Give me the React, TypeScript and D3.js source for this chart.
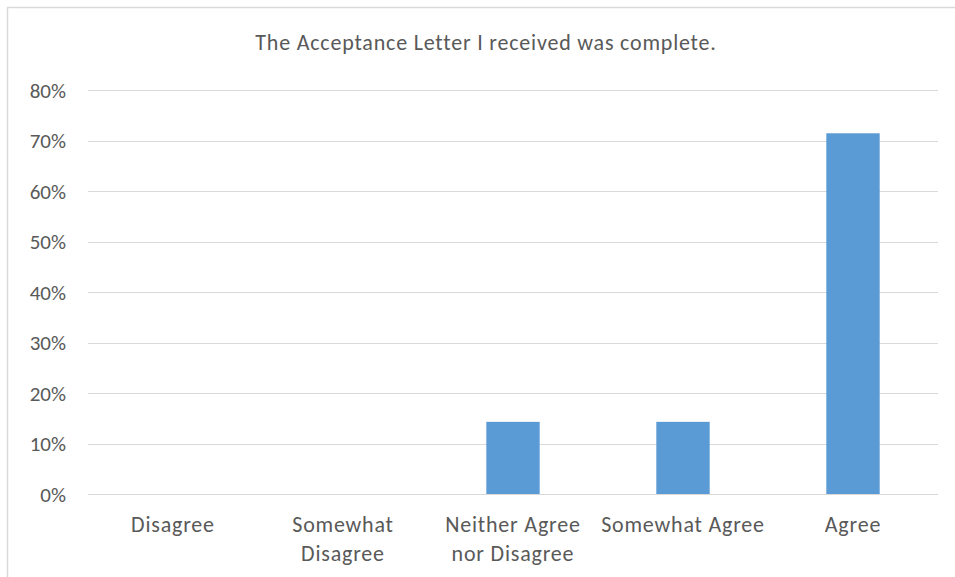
import React from "react";
import * as d3 from "d3";

const categories: string[][] = [
  ["Disagree"],
  ["Somewhat", "Disagree"],
  ["Neither Agree", "nor Disagree"],
  ["Somewhat Agree"],
  ["Agree"],
];
const values: number[] = [0, 0, 0.1429, 0.1429, 0.7143];
const yTicks: number[] = [0, 0.1, 0.2, 0.3, 0.4, 0.5, 0.6, 0.7, 0.8];
const title = "The Acceptance Letter I received was complete.";

const W = 955;
const H = 577;
const plotLeft = 88;
const plotRight = 938;
const plotTop = 90;
const plotBottom = 494;
const FONT = "Carlito, Calibri, Lato, 'Open Sans', sans-serif";
const TEXT = "#595959";
const GRID = "#d9d9d9";
const BAR = "#5b9bd5";

export default function App() {
  const keys = categories.map((c) => c.join(" "));
  const x = d3.scaleBand<string>().domain(keys).range([plotLeft, plotRight]).paddingInner(0.686).paddingOuter(0.343);
  const y = d3.scaleLinear().domain([0, 0.8]).range([plotBottom, plotTop]);
  const fmt = d3.format(".0%");
  return (
    <svg width={W} height={H} style={{ position: "absolute", left: 0, top: 0, display: "block", background: "#fff" }}>
      <rect x={7.5} y={7.5} width={W} height={H} fill="#fff" stroke={GRID} strokeWidth={1.5} />
      <text x={486} y={50} textAnchor="middle" fontFamily={FONT} fontSize={22} letterSpacing={0.8} fill={TEXT}>
        {title}
      </text>
      {yTicks.map((t) => (
        <g key={t}>
          <line x1={plotLeft} x2={plotRight} y1={Math.round(y(t)) + 0.5} y2={Math.round(y(t)) + 0.5} stroke={GRID} strokeWidth={1} />
          <text x={66} y={y(t)} dy="0.36em" textAnchor="end" fontFamily={FONT} fontSize={21} fill={TEXT}>
            {fmt(t)}
          </text>
        </g>
      ))}
      {values.map((v, i) =>
        v > 0 ? (
          <rect key={i} x={x(keys[i])} y={y(v)} width={x.bandwidth()} height={y(0) - y(v)} fill={BAR} />
        ) : null
      )}
      {categories.map((lines, i) => (
        <text key={i} x={(x(keys[i]) as number) + x.bandwidth() / 2} y={532} textAnchor="middle" fontFamily={FONT} fontSize={22} letterSpacing={0.8} fill={TEXT}>
          {lines.map((l, j) => (
            <tspan key={j} x={(x(keys[i]) as number) + x.bandwidth() / 2} dy={j === 0 ? 0 : 29}>
              {l}
            </tspan>
          ))}
        </text>
      ))}
    </svg>
  );
}
